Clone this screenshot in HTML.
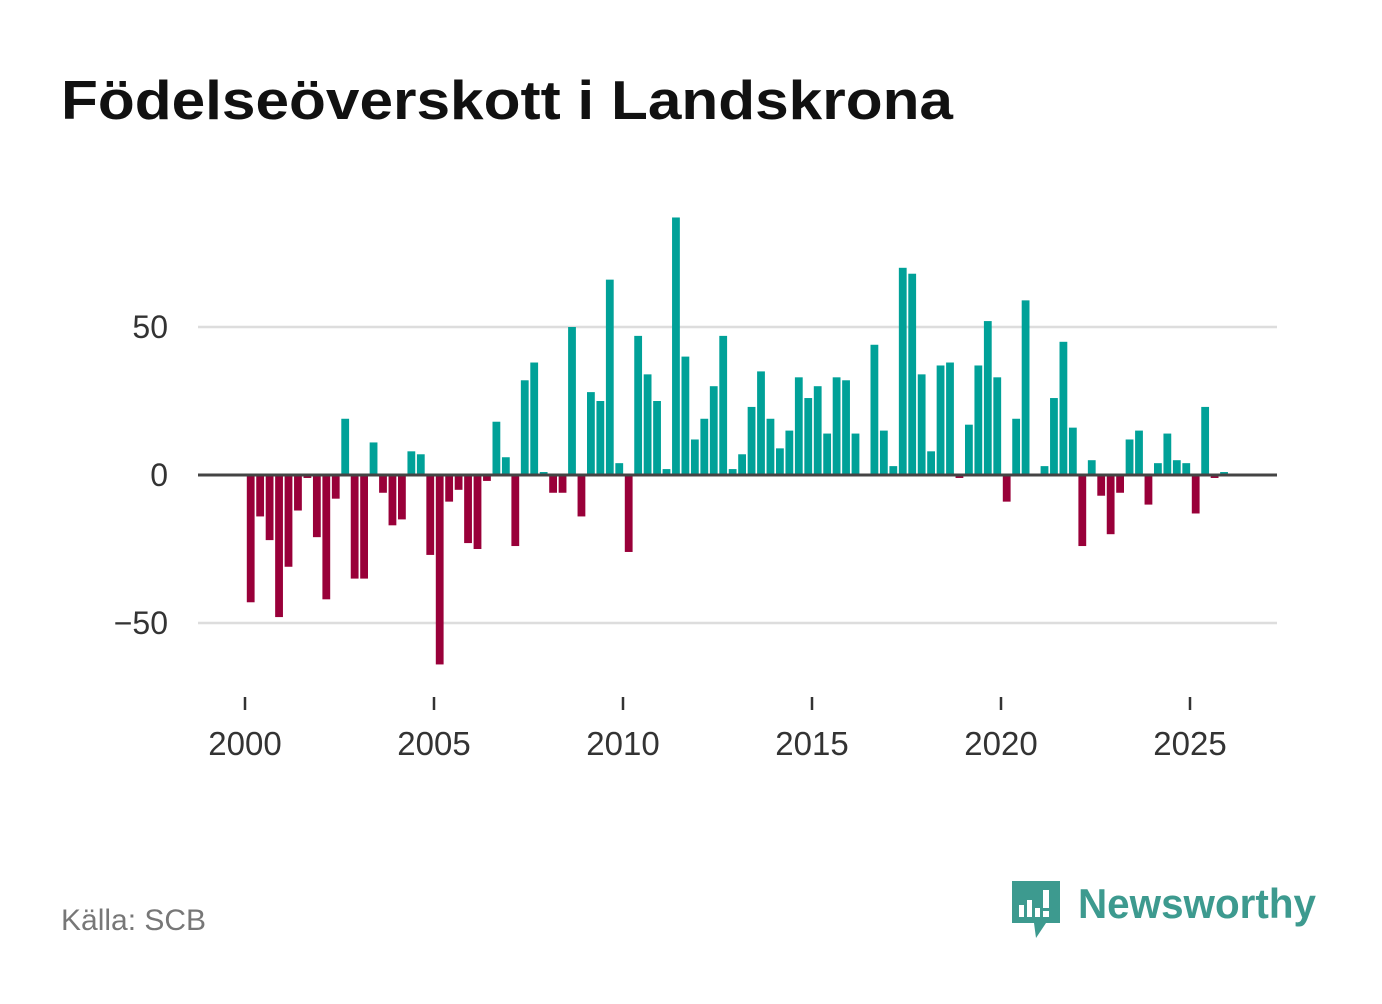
<!DOCTYPE html>
<html><head><meta charset="utf-8"><style>
body{margin:0;width:1382px;height:999px;background:#fff;font-family:"Liberation Sans",sans-serif;overflow:hidden}
</style></head><body>
<svg width="1382" height="999">
<text x="61" y="119" font-size="55" font-weight="bold" fill="#111" textLength="892" lengthAdjust="spacingAndGlyphs">Födelseöverskott i Landskrona</text>
<g id="grid"></g><g id="bars"></g><g id="axes"></g>
<text x="61" y="930" font-size="30" fill="#777">Källa: SCB</text>
<g>
<path d="M1012 881 h48 v42 h-14 l-10 15 l-2 -15 h-22 z" fill="#3d9a8f"/>
<rect x="1019" y="905" width="5" height="12" fill="#fff"/><rect x="1027" y="900" width="5" height="17" fill="#fff"/><rect x="1035" y="908" width="5" height="9" fill="#fff"/><rect x="1043" y="890" width="6" height="18" fill="#fff"/><rect x="1043" y="911" width="6" height="6" fill="#fff"/>
<text x="1078" y="918" font-size="42" font-weight="bold" fill="#3d9a8f" textLength="238" lengthAdjust="spacingAndGlyphs">Newsworthy</text>
</g>
</svg>
<script>
const values=[-43,-14,-22,-48,-31,-12,-1,-21,-42,-8,19,-35,-35,11,-6,-17,-15,8,7,-27,-64,-9,-5,-23,-25,-2,18,6,-24,32,38,1,-6,-6,50,-14,28,25,66,4,-26,47,34,25,2,87,40,12,19,30,47,2,7,23,35,19,9,15,33,26,30,14,33,32,14,0,44,15,3,70,68,34,8,37,38,-1,17,37,52,33,-9,19,59,0,3,26,45,16,-24,5,-7,-20,-6,12,15,-10,4,14,5,4,-13,23,-1,1];
const startYear=2000;
const yTicks=[-50,0,50];
const yTickLabels=["−50","0","50"];
const xTicks=[2000,2005,2010,2015,2020,2025];
const NS="http://www.w3.org/2000/svg";
const x=yr=>245+37.8*(yr-2000);
const y=v=>475-2.96*v;
function mk(t,a,p){const e=document.createElementNS(NS,t);for(const k in a)e.setAttribute(k,a[k]);p.appendChild(e);return e;}
const grid=document.getElementById('grid'),bars=document.getElementById('bars'),axes=document.getElementById('axes');
yTicks.forEach((v,i)=>{
 if(v!==0){const l=mk('line',{x1:198,x2:1277,y1:y(v),y2:y(v),stroke:'#ddd','stroke-width':2.5},grid);
 
 }
 const t=mk('text',{x:168,y:y(v)+11,'font-size':32,fill:'#333','text-anchor':'end'},grid);
 t.textContent=yTickLabels[i];
 
 
});
values.forEach((v,i)=>{
 const xx=x(startYear+i/4)+1.8;
 const r=mk('rect',{x:xx,y:Math.min(y(v),y(0)),width:7.8,height:Math.abs(y(v)-y(0)),fill:v>=0?'#00a198':'#990039'},bars);
 
 
});
const z=mk('line',{x1:198,x2:1277,y1:y(0),y2:y(0),stroke:'#444','stroke-width':3},axes);


xTicks.forEach(yr=>{
 const m=mk('line',{x1:x(yr),x2:x(yr),y1:697,y2:710,stroke:'#333','stroke-width':2.5},axes);
 
 
 const t=mk('text',{x:x(yr),y:755,'font-size':33,fill:'#333','text-anchor':'middle'},axes);
 t.textContent=yr;
 
 
});
</script>
</body></html>
